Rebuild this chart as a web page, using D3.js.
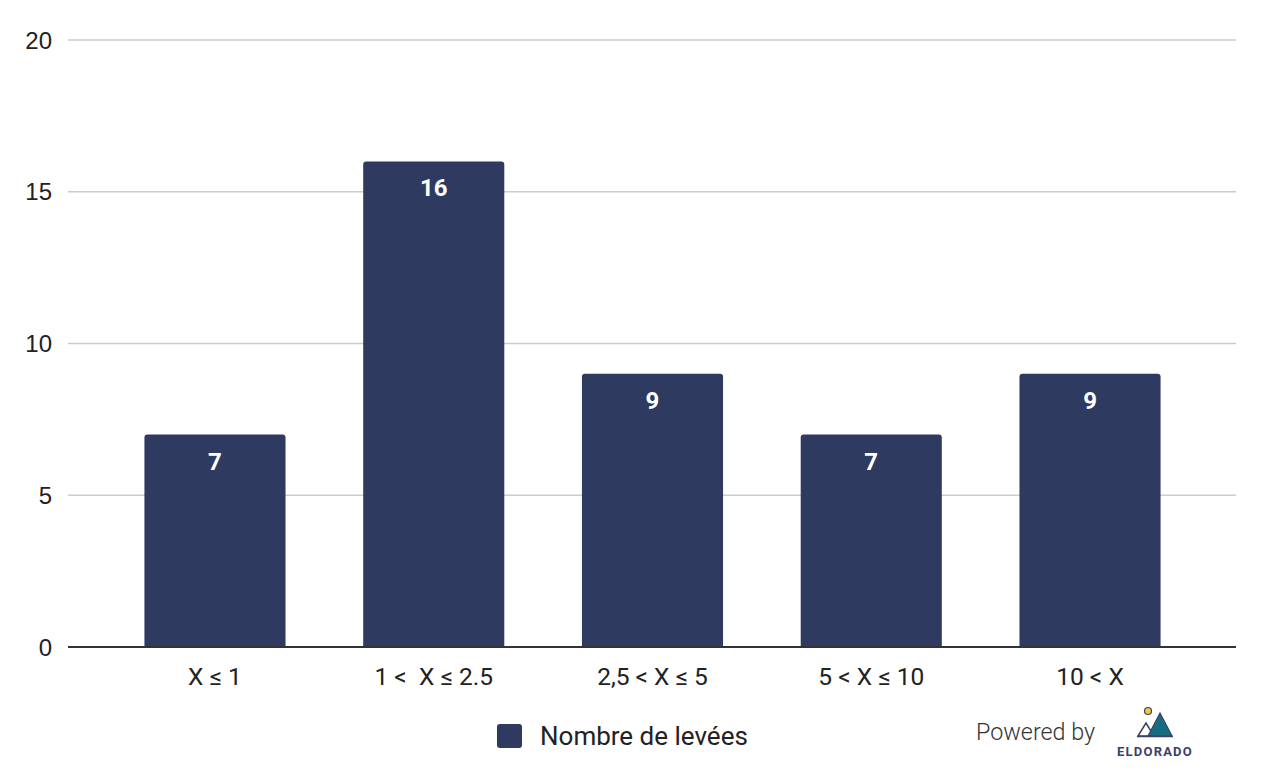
<!DOCTYPE html>
<html><head><meta charset="utf-8">
<script src="https://cdn.jsdelivr.net/npm/d3@7"></script>
<style>body{margin:0;background:#fff}svg{display:block}</style>
</head><body>
<svg id="c" width="1266" height="774"></svg>
<script>
const categories = ["X ≤ 1", "1 <  X ≤ 2.5", "2,5 < X ≤ 5", "5 < X ≤ 10", "10 < X"];
const values = [7, 16, 9, 7, 9];
const yTicks = [0, 5, 10, 15, 20];
const seriesName = "Nombre de levées";

const svg = d3.select("#c");
const barColor = "#2f3a60";
const y = d3.scaleLinear().domain([0, 20]).range([647, 40]);
const x = d3.scaleBand().domain(categories).range([105.6, 1199.4]).paddingInner(0.355).paddingOuter(0.1775);

// grid
svg.append("g").selectAll("line").data(yTicks.filter(d => d > 0)).join("line")
  .attr("x1", 68).attr("x2", 1236).attr("y1", d => y(d)).attr("y2", d => y(d))
  .attr("stroke", "#cccccc").attr("stroke-width", 1.3);

// y labels
svg.append("g").selectAll("text").data(yTicks).join("text")
  .attr("x", 52).attr("y", d => y(d)).attr("dy", "0.36em").attr("text-anchor", "end")
  .attr("font-family", "Liberation Sans, Arial, sans-serif").attr("font-size", 24).attr("fill", "#222")
  .text(d => d);

// bars with rounded top corners
const r = 3;
svg.append("g").selectAll("path").data(values).join("path")
  .attr("fill", barColor)
  .attr("d", (d, i) => {
    const x0 = x(categories[i]), w = x.bandwidth(), yt = y(d), yb = y(0);
    return `M${x0},${yb}V${yt + r}Q${x0},${yt} ${x0 + r},${yt}H${x0 + w - r}Q${x0 + w},${yt} ${x0 + w},${yt + r}V${yb}Z`;
  });

// value labels
svg.append("g").selectAll("text").data(values).join("text")
  .attr("x", (d, i) => x(categories[i]) + x.bandwidth() / 2)
  .attr("y", d => y(d) + 35).attr("text-anchor", "middle")
  .attr("font-family", "Roboto, sans-serif").attr("font-weight", "bold").attr("font-size", 24).attr("fill", "#fff")
  .text(d => d);

// baseline
svg.append("line").attr("x1", 68).attr("x2", 1236).attr("y1", y(0)).attr("y2", y(0))
  .attr("stroke", "#333").attr("stroke-width", 2);

// x labels
svg.append("g").selectAll("text").data(categories).join("text")
  .attr("x", d => x(d) + x.bandwidth() / 2).attr("y", 685).attr("text-anchor", "middle")
  .attr("font-family", "Roboto, sans-serif").attr("font-size", 24.5).attr("fill", "#222")
  .attr("xml:space", "preserve").style("white-space", "pre")
  .text(d => d);

// legend
svg.append("rect").attr("x", 497).attr("y", 724).attr("width", 25).attr("height", 24).attr("rx", 3).attr("fill", barColor);
svg.append("text").attr("x", 540).attr("y", 745).attr("font-family", "Roboto, sans-serif").attr("font-size", 26)
  .attr("fill", "#222").text(seriesName);

// Powered by
svg.append("text").attr("x", 976).attr("y", 740).attr("font-family", "Roboto, sans-serif").attr("font-weight", 300)
  .attr("font-size", 23.3).attr("fill", "#333").text("Powered by");

// logo
const lg = svg.append("g");
lg.append("circle").attr("cx", 1148).attr("cy", 711).attr("r", 3.5).attr("fill", "#f3c641").attr("stroke", "#3b4069").attr("stroke-width", 1.2);
lg.append("path").attr("d", "M1138,736L1146,723L1154,736Z").attr("fill", "none").attr("stroke", "#3b4069").attr("stroke-width", 1.5);
lg.append("path").attr("d", "M1148,736L1160,713L1172,736Z").attr("fill", "#166d80").attr("stroke", "#3b4069").attr("stroke-width", 1.2);
lg.append("line").attr("x1", 1137).attr("x2", 1173).attr("y1", 736.5).attr("y2", 736.5).attr("stroke", "#3b4069").attr("stroke-width", 1.5);
lg.append("text").attr("x", 1155).attr("y", 756).attr("text-anchor", "middle").attr("font-family", "Roboto, sans-serif")
  .attr("font-weight", "bold").attr("font-size", 13).attr("letter-spacing", 1.2).attr("fill", "#3b4069").text("ELDORADO");
</script>
</body></html>
